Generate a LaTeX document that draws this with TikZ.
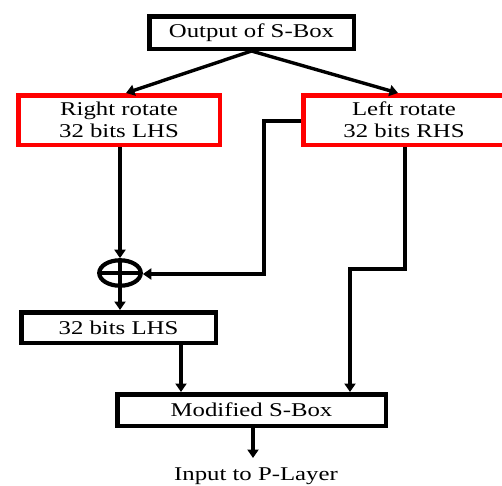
\documentclass[tikz,border=0pt]{standalone}
\usepackage{fontspec}
\setmainfont{Liberation Serif}
\newfontfamily\tfont[FakeStretch=1.27]{Liberation Serif}
\usetikzlibrary{arrows.meta,shapes.geometric}
\begin{document}
\begin{tikzpicture}[x=1pt,y=-1pt,
  every node/.style={font=\tfont\fontsize{19.5}{22}\selectfont},
  blackbox/.style={draw=black,line width=4.5pt,rectangle,inner sep=0pt,align=center},
  redbox/.style={draw=red,line width=4.5pt,rectangle,inner sep=0pt,align=center,fill=white},
  conn/.style={line width=3.4pt,-{Triangle[width=11pt,length=8.5pt]}},
  plain/.style={line width=3.4pt}]
\useasboundingbox (0,0) rectangle (502,485);
\node[blackbox,minimum width=204.5pt,minimum height=32.5pt] (out) at (251.5,32.5) {Output of S-Box};
\node[redbox,minimum width=201.5pt,minimum height=49.5pt] (rr) at (119,120) {Right rotate\\32 bits LHS};
\node[redbox,minimum width=201.5pt,minimum height=49.5pt] (lr) at (404,120) {Left rotate\\32 bits RHS};
\node[draw,ellipse,line width=4.2pt,minimum width=41.5pt,minimum height=25.5pt,inner sep=0pt,
  path picture={\draw[line width=3.4pt] (path picture bounding box.north) -- (path picture bounding box.south)
  (path picture bounding box.west) -- (path picture bounding box.east);}] (xor) at (120,273) {};
\node[blackbox,minimum width=194.5pt,minimum height=30.5pt] (lhs) at (118.5,327.5) {32 bits LHS};
\node[blackbox,minimum width=268.5pt,minimum height=31.5pt] (mod) at (251.5,410) {Modified S-Box};
\node (inp) at (256,476) {Input to P-Layer};
\coordinate (a1) at (264,121);
\coordinate (a2) at (264,274);
\coordinate (b1) at (405,269);
\coordinate (b2) at (350,269);
\coordinate (tip) at (253,458);
\draw[conn] (out.south) -- (126,93);
\draw[conn] (out.south) -- (398,93);
\draw[conn] (rr.south -| xor.north) -- (xor.north);
\draw[conn] (xor.south) -- (lhs.north -| xor.south);
\draw[conn] (lr.west |- a1) -- (a1) -- (a2) -- (xor.east |- a2);
\draw[conn] (lr.south -| b1) -- (b1) -- (b2) -- (mod.north -| b2);
\draw[conn] (lhs.south -| 181,0) -- (mod.north -| 181,0);
\draw[conn] (mod.south -| tip) -- (tip);
\end{tikzpicture}
\end{document}
